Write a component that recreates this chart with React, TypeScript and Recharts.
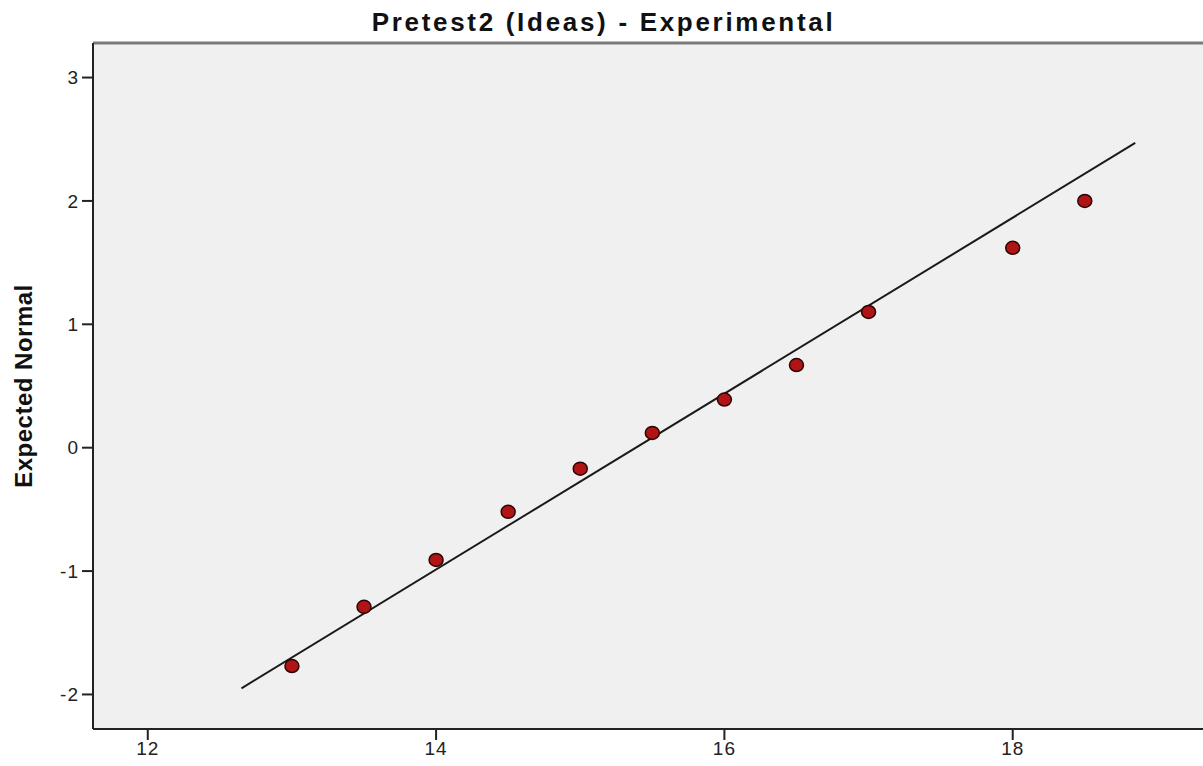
import {
  ScatterChart,
  Scatter,
  XAxis,
  YAxis,
  CartesianGrid,
  ReferenceLine,
} from 'recharts';

// Observed values against their expected normal scores
const observed = [13, 13.5, 14, 14.5, 15, 15.5, 16, 16.5, 17, 18, 18.5];
const expectedNormal = [-1.77, -1.29, -0.91, -0.52, -0.17, 0.12, 0.39, 0.67, 1.1, 1.62, 2.0];

// Reference line endpoints
const fitX = [12.65, 18.85];
const fitY = [-1.95, 2.47];

const xTicks = [12, 14, 16, 18];
const yTicks = [-2, -1, 0, 1, 2, 3];

const points = observed.map((x, i) => ({ x, y: expectedNormal[i] }));
const fitSegment = fitX.map((x, i) => ({ x, y: fitY[i] }));

const FONT = '"Liberation Sans", Arial, sans-serif';

function Dot(props: { cx?: number; cy?: number }) {
  const { cx = 0, cy = 0 } = props;
  return <ellipse cx={cx} cy={cy} rx={7} ry={6.5} fill="#b01414" stroke="#2b0505" strokeWidth={1.5} />;
}

function YTitle(props: { viewBox?: { x: number; y: number; width: number; height: number } }) {
  const vb = props.viewBox || { x: 0, y: 0, width: 0, height: 0 };
  const cx = 23;
  const cy = vb.y + vb.height / 2;
  return (
    <text
      x={cx}
      y={cy}
      transform={`rotate(-90, ${cx}, ${cy})`}
      textAnchor="middle"
      dominantBaseline="central"
      fontFamily={FONT}
      fontWeight="bold"
      fontSize={24}
      letterSpacing={0.5}
      fill="#111"
    >
      Expected Normal
    </text>
  );
}

export default function App() {
  return (
    <div style={{ position: 'absolute', left: 0, top: 0, width: 1203, height: 766, background: '#fff' }}>
      <div
        style={{
          position: 'absolute',
          left: 0,
          top: 7,
          width: 1207,
          textAlign: 'center',
          fontFamily: FONT,
          fontWeight: 'bold',
          fontSize: 26,
          letterSpacing: 2.7,
          lineHeight: '30px',
          color: '#111',
        }}
      >
        Pretest2 (Ideas) - Experimental
      </div>
      <ScatterChart width={1203} height={766} margin={{ top: 43, right: 0, bottom: 0, left: 0 }}>
        <CartesianGrid fill="#f0f0f0" horizontal={false} vertical={false} />
        <XAxis
          type="number"
          dataKey="x"
          domain={[11.62, 19.32]}
          ticks={xTicks}
          height={37}
          allowDataOverflow
          stroke="#222"
          strokeWidth={2}
          tickSize={11}
          tickMargin={2}
          tick={{ fill: '#222', fontSize: 19, fontFamily: FONT, letterSpacing: 1 }}
        />
        <YAxis
          type="number"
          dataKey="y"
          domain={[-2.28, 3.28]}
          ticks={yTicks}
          width={93}
          allowDataOverflow
          stroke="#222"
          strokeWidth={2}
          tickSize={11}
          tickMargin={3}
          tick={{ fill: '#222', fontSize: 19, fontFamily: FONT, letterSpacing: 1 }}
          label={<YTitle />}
        />
        <ReferenceLine y={3.28} stroke="#7a7a7a" strokeWidth={3} ifOverflow="extendDomain" />
        <ReferenceLine segment={fitSegment} stroke="#1a1a1a" strokeWidth={2} />
        <Scatter data={points} shape={<Dot />} isAnimationActive={false} />
      </ScatterChart>
    </div>
  );
}
